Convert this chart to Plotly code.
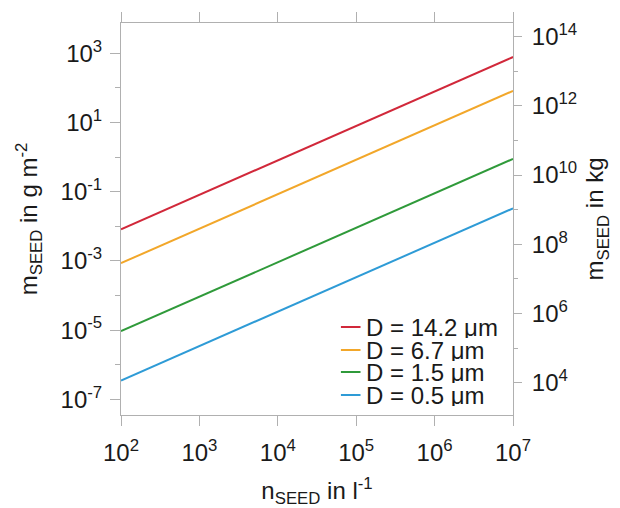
import plotly.graph_objects as go

# Seed particle number concentration (l^-1) at the ends of the sweep
n_seed = [1e2, 1e7]

# Column seed mass (g m^-2) for each seed diameter, at the two ends of n_seed
diameters = ["14.2", "6.7", "1.5", "0.5"]
m_seed_142 = [8.2e-3, 7.8e2]
m_seed_67 = [8.6e-4, 8.2e1]
m_seed_15 = [9.3e-6, 8.9e-1]
m_seed_05 = [3.5e-7, 3.3e-2]
line_colors = ["#d1283a", "#f2a72a", "#2f9a3a", "#2e9bd6"]

# Axis ticks
x_ticks = [1e2, 1e3, 1e4, 1e5, 1e6, 1e7]
x_labels = ["10<sup>2</sup>", "10<sup>3</sup>", "10<sup>4</sup>",
            "10<sup>5</sup>", "10<sup>6</sup>", "10<sup>7</sup>"]
y_ticks = [1e-7, 1e-5, 1e-3, 1e-1, 1e1, 1e3]
y_labels = ["10<sup>-7</sup>", "10<sup>-5</sup>", "10<sup>-3</sup>",
            "10<sup>-1</sup>", "10<sup>1</sup>", "10<sup>3</sup>"]
y_minor = [1e-6, 1e-4, 1e-2, 1e0, 1e2]
kg_ticks = [1e4, 1e6, 1e8, 1e10, 1e12, 1e14]
kg_labels = ["10<sup>4</sup>", "10<sup>6</sup>", "10<sup>8</sup>",
             "10<sup>10</sup>", "10<sup>12</sup>", "10<sup>14</sup>"]
kg_minor = [1e5, 1e7, 1e9, 1e11, 1e13]

# log10 ranges; the kg axis is the g m^-2 axis shifted by the area factor
y_range = [-7.454, 3.876]
kg_offset = 10.52
kg_range = [y_range[0] + kg_offset, y_range[1] + kg_offset]

FONT = "Liberation Sans, Arial, Helvetica, sans-serif"
TXT = "#1a1a1a"
AX = "#b0b0b0"
FS = 24

series = [m_seed_142, m_seed_67, m_seed_15, m_seed_05]

fig = go.Figure()
for d, m, c in zip(diameters, series, line_colors):
    fig.add_trace(go.Scatter(
        x=n_seed, y=m, mode="lines", name=f"D = {d} μm",
        line=dict(color=c, width=2), showlegend=False,
    ))

# Same largest-diameter series expressed in kg, bound to the right axis
# (transparent; it only anchors the kg axis)
fig.add_trace(go.Scatter(
    x=n_seed, y=[v * 10 ** kg_offset for v in m_seed_142], yaxis="y2",
    mode="lines", line=dict(width=0, color="rgba(0,0,0,0)"),
    showlegend=False, hoverinfo="skip",
))

# Hand-placed legend: short coloured strokes with labels, tightly stacked
leg_y = [0.2245, 0.1658, 0.1097, 0.051]
for d, c, yy in zip(diameters, line_colors, leg_y):
    fig.add_shape(type="line", xref="paper", yref="paper",
                  x0=0.561, x1=0.611, y0=yy, y1=yy,
                  line=dict(color=c, width=2))
    fig.add_annotation(xref="paper", yref="paper", x=0.619, y=yy,
                       text=f"D = {d} μm", showarrow=False,
                       xanchor="left", yanchor="middle", height=22,
                       font=dict(family=FONT, size=24, color=TXT))

fig.update_layout(
    width=620, height=508,
    margin=dict(l=121, r=107, t=23, b=93, autoexpand=False),
    paper_bgcolor="white", plot_bgcolor="white",
    font=dict(family=FONT, size=FS, color=TXT),
    xaxis=dict(
        type="log", range=[2, 7], automargin=False,
        tickvals=x_ticks, ticktext=x_labels,
        ticks="outside", ticklen=10, tickcolor=AX, tickwidth=1,
        ticklabelstandoff=6,
        showline=True, linecolor=AX, linewidth=1, mirror="ticks",
        showgrid=False, zeroline=False,
        tickfont=dict(size=FS, color=TXT),
        title=dict(text="n<sub>SEED</sub> in l<sup>-1</sup>",
                   font=dict(size=FS, color=TXT), standoff=24),
    ),
    yaxis=dict(
        type="log", range=y_range, automargin=False,
        tickvals=y_ticks, ticktext=y_labels,
        ticks="outside", ticklen=10, tickcolor=AX, tickwidth=1,
        ticklabelstandoff=3,
        minor=dict(tickvals=y_minor, ticks="outside", ticklen=5,
                   tickcolor=AX, showgrid=False),
        showline=True, linecolor=AX, linewidth=1,
        showgrid=False, zeroline=False,
        tickfont=dict(size=FS, color=TXT),
        title=dict(text="m<sub>SEED</sub> in g m<sup>-2</sup>",
                   font=dict(size=FS, color=TXT), standoff=16),
    ),
    yaxis2=dict(
        type="log", range=kg_range, overlaying="y", side="right",
        automargin=False,
        tickvals=kg_ticks, ticktext=kg_labels,
        ticks="outside", ticklen=8, tickcolor=AX, tickwidth=1,
        ticklabelstandoff=5,
        minor=dict(tickvals=kg_minor, ticks="outside", ticklen=4,
                   tickcolor=AX, showgrid=False),
        showline=True, linecolor=AX, linewidth=1,
        showgrid=False, zeroline=False,
        tickfont=dict(size=FS, color=TXT),
        title=dict(text="m<sub>SEED</sub> in kg",
                   font=dict(size=FS, color=TXT), standoff=10),
    ),
)

fig.write_html("out.html")
